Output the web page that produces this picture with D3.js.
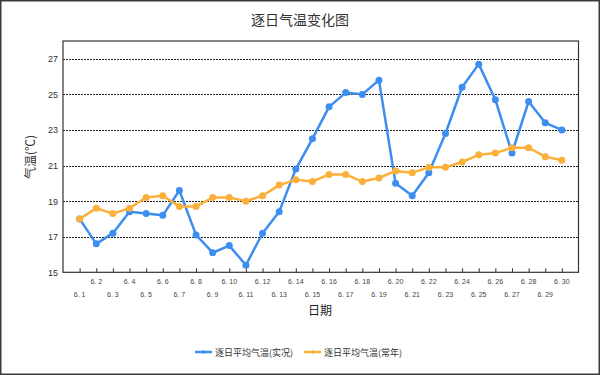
<!DOCTYPE html>
<html>
<head>
<meta charset="utf-8">
<script src="https://cdn.jsdelivr.net/npm/d3@7"></script>
<style>
  body { margin: 0; background: #fff; }
  svg { display: block; font-family: "Noto Sans CJK SC", "DejaVu Sans", sans-serif; }
</style>
</head>
<body>
<script>
var days = ["6.1","6.2","6.3","6.4","6.5","6.6","6.7","6.8","6.9","6.10",
            "6.11","6.12","6.13","6.14","6.15","6.16","6.17","6.18","6.19","6.20",
            "6.21","6.22","6.23","6.24","6.25","6.26","6.27","6.28","6.29","6.30"];
var actualTemp = [18.0,16.6,17.2,18.4,18.3,18.2,19.6,17.1,16.1,16.5,
                  15.4,17.2,18.4,20.8,22.5,24.3,25.1,25.0,25.8,20.0,
                  19.3,20.6,22.8,25.4,26.7,24.7,21.7,24.6,23.4,23.0];
var normalTemp = [18.0,18.6,18.3,18.6,19.2,19.3,18.7,18.7,19.2,19.2,
                  19.0,19.3,19.9,20.2,20.1,20.5,20.5,20.1,20.3,20.7,
                  20.6,20.9,20.9,21.2,21.6,21.7,22.0,22.0,21.5,21.3];
var yTicks = [15,17,19,21,23,25,27];
var seriesNames = ["逐日平均气温(实况)", "逐日平均气温(常年)"];
var seriesColors = ["#3d8ef0", "#fbb03b"];

var width = 600, height = 375;
var plotLeft = 63, plotRight = 578.5, plotTop = 41, plotBottom = 272.3;

var svg = d3.select("body").append("svg").attr("width", width).attr("height", height);

// outer border
svg.append("rect").attr("x", 0.75).attr("y", 0.75).attr("width", width - 1.5).attr("height", height - 1.5)
    .attr("fill", "#fff").attr("stroke", "#3a3a3a").attr("stroke-width", 1.5);

svg.append("text").attr("x", 300).attr("y", 25).attr("text-anchor", "middle")
    .attr("font-size", 14).attr("fill", "#333").text("逐日气温变化图");

var x = d3.scalePoint().domain(days).range([plotLeft, plotRight]).padding(1);
var y = d3.scaleLinear().domain([15, 28]).range([plotBottom, plotTop]);

// grid lines
svg.append("g").selectAll("line").data(yTicks.filter(function(d){ return d > 15; })).enter().append("line")
    .attr("x1", plotLeft).attr("x2", plotRight)
    .attr("y1", function(d){ return Math.round(y(d)) + 0.5; })
    .attr("y2", function(d){ return Math.round(y(d)) + 0.5; })
    .attr("stroke", "#222").attr("stroke-width", 1).attr("stroke-dasharray", "2,1");

// frame
svg.append("rect").attr("x", plotLeft).attr("y", plotTop).attr("width", plotRight - plotLeft).attr("height", plotBottom - plotTop)
    .attr("fill", "none").attr("stroke", "#333").attr("stroke-width", 1.2);

// y axis labels
var yAxis = d3.axisLeft(y).tickValues(yTicks).tickSize(0).tickPadding(5);
var gy = svg.append("g").attr("transform", "translate(" + plotLeft + ",0)").call(yAxis);
gy.select(".domain").remove();
gy.selectAll("text").attr("font-size", 9).attr("fill", "#333").attr("font-family", "Liberation Sans, Arial, sans-serif");

// x axis ticks (inward) and staggered labels
var xAxis = d3.axisTop(x).tickSize(4).tickFormat("");
var gx = svg.append("g").attr("transform", "translate(0," + plotBottom + ")").call(xAxis);
gx.select(".domain").remove();
gx.selectAll("line").attr("stroke", "#333");

svg.append("g").selectAll("text").data(days).enter().append("text")
    .attr("x", function(d){ return x(d); })
    .attr("y", function(d, i){ return i % 2 === 1 ? 284 : 296.5; })
    .attr("text-anchor", "middle").attr("font-size", 7).attr("fill", "#444")
    .attr("font-family", "Liberation Sans, Arial, sans-serif")
    .text(function(d){ return d.replace(".", ". "); });

svg.append("text").attr("x", 320).attr("y", 315).attr("text-anchor", "middle")
    .attr("font-size", 12).attr("fill", "#222").text("日期");

svg.append("text").attr("transform", "translate(35,157) rotate(-90)").attr("text-anchor", "middle")
    .attr("font-size", 12).attr("fill", "#333").text("气温(℃)");

// series (orange drawn last, on top)
var series = [actualTemp, normalTemp];
var line = d3.line().x(function(d, i){ return x(days[i]); }).y(function(d){ return y(d); });

[0, 1].forEach(function(s){
    var g = svg.append("g");
    g.append("path").datum(series[s]).attr("d", line)
        .attr("fill", "none").attr("stroke", seriesColors[s]).attr("stroke-width", 2.5)
        .attr("stroke-linejoin", "round");
    g.selectAll("circle").data(series[s]).enter().append("circle")
        .attr("cx", function(d, i){ return x(days[i]); })
        .attr("cy", function(d){ return y(d); })
        .attr("r", 3.5).attr("fill", seriesColors[s]);
});

// legend
var legendX = [195, 304];
seriesNames.forEach(function(name, i){
    var lg = svg.append("g").attr("transform", "translate(" + legendX[i] + ",352)");
    lg.append("line").attr("x1", 0).attr("x2", 17).attr("y1", 0).attr("y2", 0)
        .attr("stroke", seriesColors[i]).attr("stroke-width", 2.5);
    lg.append("circle").attr("cx", 8.5).attr("cy", 0).attr("r", 1.8).attr("fill", seriesColors[i]);
    lg.append("text").attr("x", 20).attr("y", 3.5).attr("font-size", 9).attr("fill", "#333").text(name);
});
</script>
</body>
</html>
